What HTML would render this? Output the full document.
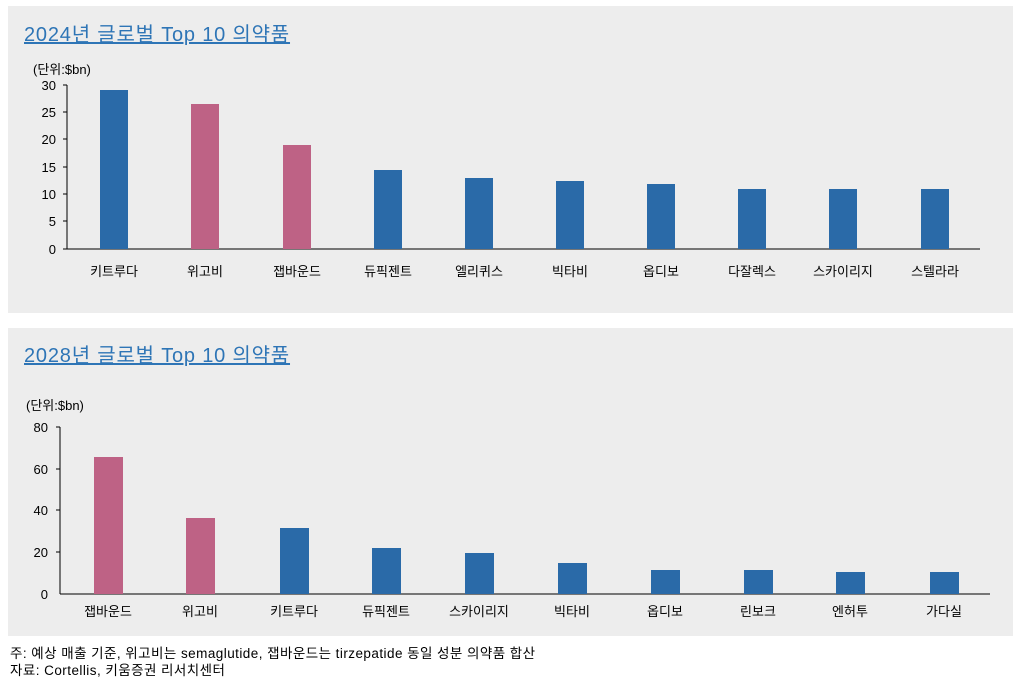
<!DOCTYPE html>
<html><head><meta charset="utf-8"><style>
body{margin:0;width:1017px;height:682px;background:#fff;font-family:"Liberation Sans","Noto Sans CJK KR",sans-serif;position:relative;overflow:hidden}
.p{position:absolute;left:8px;width:1005px;background:#ededed}
.t{position:absolute;left:16px;font-size:20px;letter-spacing:0.8px;color:#2e75b6;text-decoration:underline}
svg{position:absolute;left:0;top:0}
text{font-family:"Liberation Sans","Noto Sans CJK KR",sans-serif;font-size:13px;fill:#000}
.f{position:absolute;left:10px;font-size:13.5px;letter-spacing:0.45px;color:#000}
</style></head><body>
<div class="p" style="top:6px;height:307px"><div class="t" style="top:12px">2024년 글로벌 Top 10 의약품</div></div>
<div class="p" style="top:328px;height:308px"><div class="t" style="top:11px">2028년 글로벌 Top 10 의약품</div></div>
<svg width="1017" height="682">
<g>
<text x="33" y="74">(단위:$bn)</text>
<line x1="67" y1="85" x2="67" y2="249" stroke="#000"/>
<line x1="67" y1="249" x2="980" y2="249" stroke="#000"/>
<g text-anchor="end">
<text x="56" y="90">30</text><text x="56" y="117">25</text><text x="56" y="144">20</text><text x="56" y="172">15</text><text x="56" y="199">10</text><text x="56" y="226">5</text><text x="56" y="254">0</text></g>
<g stroke="#000"><line x1="63" y1="85" x2="67" y2="85"/><line x1="63" y1="112" x2="67" y2="112"/><line x1="63" y1="139" x2="67" y2="139"/><line x1="63" y1="167" x2="67" y2="167"/><line x1="63" y1="194" x2="67" y2="194"/><line x1="63" y1="221" x2="67" y2="221"/><line x1="63" y1="249" x2="67" y2="249"/></g>
<rect x="100" y="90" width="28" height="159" fill="#2a6aa8"/>
<rect x="191" y="104" width="28" height="145" fill="#be6285"/>
<rect x="283" y="145" width="28" height="104" fill="#be6285"/>
<rect x="374" y="170" width="28" height="79" fill="#2a6aa8"/>
<rect x="465" y="178" width="28" height="71" fill="#2a6aa8"/>
<rect x="556" y="181" width="28" height="68" fill="#2a6aa8"/>
<rect x="647" y="184" width="28" height="65" fill="#2a6aa8"/>
<rect x="738" y="189" width="28" height="60" fill="#2a6aa8"/>
<rect x="829" y="189" width="28" height="60" fill="#2a6aa8"/>
<rect x="921" y="189" width="28" height="60" fill="#2a6aa8"/>
<g text-anchor="middle">
<text x="114" y="276">키트루다</text><text x="205" y="276">위고비</text><text x="297" y="276">잽바운드</text><text x="388" y="276">듀픽젠트</text><text x="479" y="276">엘리퀴스</text><text x="570" y="276">빅타비</text><text x="661" y="276">옵디보</text><text x="752" y="276">다잘렉스</text><text x="843" y="276">스카이리지</text><text x="935" y="276">스텔라라</text></g>
</g>
<g>
<text x="26" y="410">(단위:$bn)</text>
<line x1="60" y1="427" x2="60" y2="594" stroke="#000"/>
<line x1="60" y1="594" x2="990" y2="594" stroke="#000"/>
<g text-anchor="end">
<text x="48" y="432">80</text><text x="48" y="474">60</text><text x="48" y="515">40</text><text x="48" y="557">20</text><text x="48" y="599">0</text></g>
<g stroke="#000"><line x1="56" y1="427" x2="60" y2="427"/><line x1="56" y1="469" x2="60" y2="469"/><line x1="56" y1="510" x2="60" y2="510"/><line x1="56" y1="552" x2="60" y2="552"/></g>
<rect x="94" y="457" width="29" height="137" fill="#be6285"/>
<rect x="186" y="518" width="29" height="76" fill="#be6285"/>
<rect x="280" y="528" width="29" height="66" fill="#2a6aa8"/>
<rect x="372" y="548" width="29" height="46" fill="#2a6aa8"/>
<rect x="465" y="553" width="29" height="41" fill="#2a6aa8"/>
<rect x="558" y="563" width="29" height="31" fill="#2a6aa8"/>
<rect x="651" y="570" width="29" height="24" fill="#2a6aa8"/>
<rect x="744" y="570" width="29" height="24" fill="#2a6aa8"/>
<rect x="836" y="572" width="29" height="22" fill="#2a6aa8"/>
<rect x="930" y="572" width="29" height="22" fill="#2a6aa8"/>
<g text-anchor="middle">
<text x="108" y="616">잽바운드</text><text x="200" y="616">위고비</text><text x="294" y="616">키트루다</text><text x="386" y="616">듀픽젠트</text><text x="479" y="616">스카이리지</text><text x="572" y="616">빅타비</text><text x="665" y="616">옵디보</text><text x="758" y="616">린보크</text><text x="850" y="616">엔허투</text><text x="944" y="616">가다실</text></g>
</g>
</svg>
<div class="f" style="top:642px">주: 예상 매출 기준, 위고비는 semaglutide, 잽바운드는 tirzepatide 동일 성분 의약품 합산</div>
<div class="f" style="top:659px">자료: Cortellis, 키움증권 리서치센터</div>
</body></html>
